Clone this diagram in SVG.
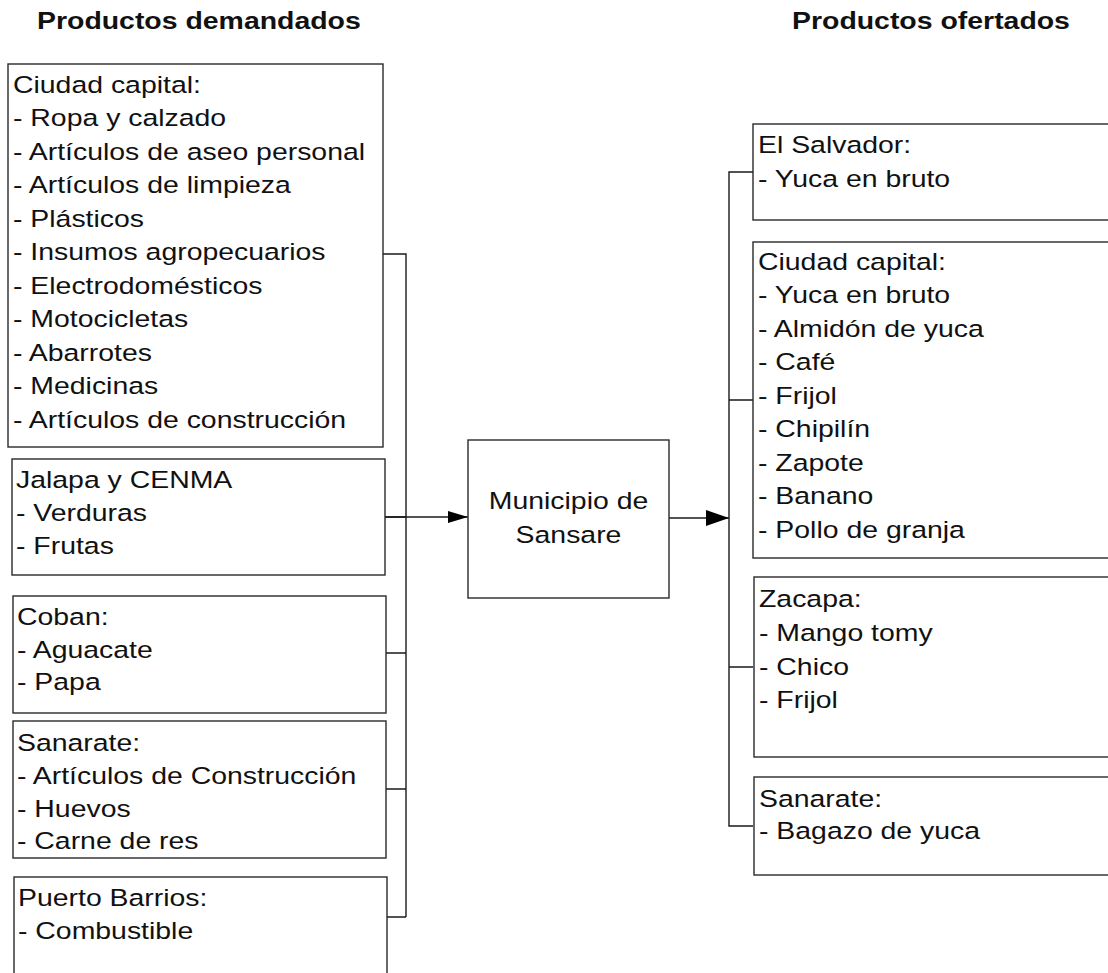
<svg xmlns="http://www.w3.org/2000/svg" width="1108" height="973" viewBox="0 0 1108 973">
<style>
.bx{fill:#fff;stroke:#2a2a2a;stroke-width:1.4}
.t{font-family:"Liberation Sans",Arial,sans-serif;font-size:24.5px;fill:#111}
.h{font-family:"Liberation Sans",Arial,sans-serif;font-size:24px;font-weight:bold;fill:#111}
.ln{fill:none;stroke:#1a1a1a;stroke-width:1.4}
</style>
<defs>
<marker id="ahS" markerUnits="userSpaceOnUse" markerWidth="20" markerHeight="12" refX="20" refY="6" orient="auto"><path d="M0,0 L20,6 L0,12 Z" fill="#000"/></marker>
<marker id="ahL" markerUnits="userSpaceOnUse" markerWidth="23" markerHeight="16" refX="23" refY="8" orient="auto"><path d="M0,0 L23,8 L0,16 Z" fill="#000"/></marker>
</defs>
<rect width="1108" height="973" fill="#fff"/>

<g id="headers">
<text class="h" transform="translate(37,29) scale(1.185,1)">Productos demandados</text>
<text class="h" transform="translate(792,29) scale(1.185,1)">Productos ofertados</text>
</g>

<g id="connectors">
<path class="ln" d="M383,254 H406 V917 M385,517 H406 M386,653 H406 M386,789 H406 M387,917 H406"/>
<path class="ln" d="M385,517 H468" marker-end="url(#ahS)"/>
<path class="ln" d="M669,518 H729" marker-end="url(#ahL)"/>
<path class="ln" d="M753,172 H729 V826 H753 M729,400 H753 M729,667 H753"/>
</g>

<g id="dem-ciudad">
<rect class="bx" x="8" y="64" width="375" height="383"/>
<g class="t" transform="translate(13,0) scale(1.16,1)">
<text x="0" y="93">Ciudad capital:</text>
<text x="0" y="126.5">- Ropa y calzado</text>
<text x="0" y="160">- Artículos de aseo personal</text>
<text x="0" y="193.5">- Artículos de limpieza</text>
<text x="0" y="227">- Plásticos</text>
<text x="0" y="260.5">- Insumos agropecuarios</text>
<text x="0" y="294">- Electrodomésticos</text>
<text x="0" y="327.5">- Motocicletas</text>
<text x="0" y="361">- Abarrotes</text>
<text x="0" y="394.5">- Medicinas</text>
<text x="0" y="428">- Artículos de construcción</text>
</g>
</g>

<g id="dem-jalapa">
<rect class="bx" x="12" y="459" width="373" height="116"/>
<g class="t" transform="translate(16,0) scale(1.16,1)">
<text x="0" y="488">Jalapa y CENMA</text>
<text x="0" y="521">- Verduras</text>
<text x="0" y="554">- Frutas</text>
</g>
</g>

<g id="dem-coban">
<rect class="bx" x="13" y="596" width="373" height="117"/>
<g class="t" transform="translate(17,0) scale(1.16,1)">
<text x="0" y="625">Coban:</text>
<text x="0" y="658">- Aguacate</text>
<text x="0" y="690">- Papa</text>
</g>
</g>

<g id="dem-sanarate">
<rect class="bx" x="13" y="721" width="373" height="137"/>
<g class="t" transform="translate(17,0) scale(1.16,1)">
<text x="0" y="751">Sanarate:</text>
<text x="0" y="784">- Artículos de Construcción</text>
<text x="0" y="817">- Huevos</text>
<text x="0" y="849">- Carne de res</text>
</g>
</g>

<g id="dem-puerto">
<rect class="bx" x="14" y="877" width="373" height="110"/>
<g class="t" transform="translate(18,0) scale(1.16,1)">
<text x="0" y="906">Puerto Barrios:</text>
<text x="0" y="939">- Combustible</text>
</g>
</g>

<g id="municipio">
<rect class="bx" x="468" y="440" width="201" height="158"/>
<g class="t" transform="translate(568.5,0) scale(1.16,1)" text-anchor="middle">
<text x="0" y="509">Municipio de</text>
<text x="0" y="543">Sansare</text>
</g>
</g>

<g id="of-salvador">
<rect class="bx" x="753" y="124" width="370" height="96"/>
<g class="t" transform="translate(758,0) scale(1.16,1)">
<text x="0" y="153">El Salvador:</text>
<text x="0" y="187">- Yuca en bruto</text>
</g>
</g>

<g id="of-ciudad">
<rect class="bx" x="753" y="242" width="370" height="316"/>
<g class="t" transform="translate(758,0) scale(1.16,1)">
<text x="0" y="270">Ciudad capital:</text>
<text x="0" y="303.5">- Yuca en bruto</text>
<text x="0" y="337">- Almidón de yuca</text>
<text x="0" y="370.5">- Café</text>
<text x="0" y="404">- Frijol</text>
<text x="0" y="437.5">- Chipilín</text>
<text x="0" y="471">- Zapote</text>
<text x="0" y="504.5">- Banano</text>
<text x="0" y="538">- Pollo de granja</text>
</g>
</g>

<g id="of-zacapa">
<rect class="bx" x="754" y="577" width="370" height="180"/>
<g class="t" transform="translate(759,0) scale(1.16,1)">
<text x="0" y="607">Zacapa:</text>
<text x="0" y="641">- Mango tomy</text>
<text x="0" y="675">- Chico</text>
<text x="0" y="708">- Frijol</text>
</g>
</g>

<g id="of-sanarate">
<rect class="bx" x="754" y="777" width="370" height="98"/>
<g class="t" transform="translate(759,0) scale(1.16,1)">
<text x="0" y="807">Sanarate:</text>
<text x="0" y="839">- Bagazo de yuca</text>
</g>
</g>
</svg>
